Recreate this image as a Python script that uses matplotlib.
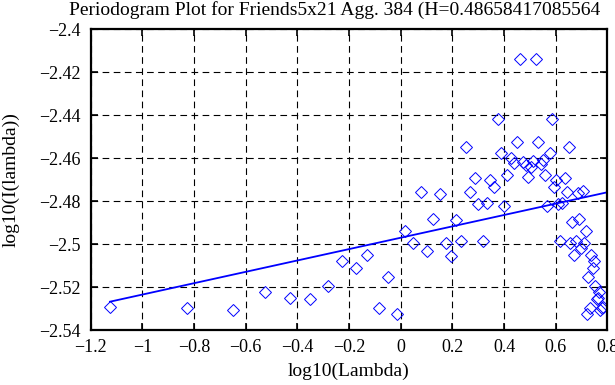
import matplotlib as mpl
import matplotlib.pyplot as plt

mpl.use('Agg')

# log10(frequency) and log10(periodogram)
logFreq = [-1.125, -0.825, -0.648, -0.525, -0.429, -0.351, -0.283, -0.226, -0.174, -0.129,
           -0.085, -0.050, -0.014, 0.017, 0.049, 0.077, 0.101, 0.126, 0.152, 0.174,
           0.194, 0.213, 0.232, 0.252, 0.268, 0.288, 0.300, 0.317, 0.333, 0.346,
           0.361, 0.375, 0.388, 0.401, 0.413, 0.426, 0.439, 0.449, 0.462, 0.472,
           0.484, 0.494, 0.504, 0.513, 0.523, 0.533, 0.542, 0.550, 0.559, 0.568,
           0.578, 0.586, 0.594, 0.601, 0.610, 0.618, 0.626, 0.635, 0.643, 0.650,
           0.657, 0.664, 0.671, 0.679, 0.685, 0.691, 0.698, 0.705, 0.711, 0.716,
           0.721, 0.726, 0.733, 0.738, 0.743, 0.748, 0.753, 0.758, 0.763, 0.768,
           0.773, 0.778, 0.783]
logPer = [-2.5290, -2.5298, -2.5306, -2.5220, -2.5250, -2.5256, -2.5194, -2.5078, -2.5109, -2.5050,
          -2.5295, -2.5151, -2.5326, -2.4938, -2.4993, -2.4755, -2.5031, -2.4881, -2.4766, -2.4993,
          -2.5053, -2.4887, -2.4984, -2.4549, -2.4755, -2.4690, -2.4813, -2.4983, -2.4809, -2.4700,
          -2.4732, -2.4419, -2.4577, -2.4821, -2.4678, -2.4597, -2.4623, -2.4523, -2.4140, -2.4616,
          -2.4631, -2.4686, -2.4639, -2.4613, -2.4140, -2.4523, -2.4628, -2.4608, -2.4678, -2.4821,
          -2.4577, -2.4419, -2.4732, -2.4700, -2.4813, -2.4983, -2.4810, -2.4690, -2.4755, -2.4549,
          -2.4993, -2.4896, -2.5050, -2.4984, -2.4763, -2.4883, -2.5019, -2.4752, -2.4993, -2.4938,
          -2.5326, -2.5151, -2.5295, -2.5050, -2.5109, -2.5078, -2.5194, -2.5256, -2.5250, -2.5220,
          -2.5306, -2.5298, -2.5290]

# least squares line end points
fitX = [-1.125, 0.8]
fitY = [-2.5267, -2.4758]

xTicks = [-1.2, -1, -0.8, -0.6, -0.4, -0.2, 0, 0.2, 0.4, 0.6, 0.8]
yTicks = [-2.54, -2.52, -2.5, -2.48, -2.46, -2.44, -2.42, -2.4]

plt.rcParams['font.family'] = ['Liberation Serif', 'DejaVu Serif']

fig = plt.figure(figsize=(6.15, 3.85), dpi=100)
ax = fig.add_axes([0.1473, 0.1421, 0.8403, 0.7818])

ax.plot(logFreq, logPer, linestyle='none', marker='D', markersize=6.5,
        markerfacecolor='none', markeredgecolor='blue', markeredgewidth=0.7)
ax.plot(fitX, fitY, color='blue', linewidth=1.3)

ax.set_xlim(-1.2, 0.8)
ax.set_ylim(-2.54, -2.4)
ax.set_xticks(xTicks)
ax.set_yticks(yTicks)
ax.set_xticklabels(['\u22121.2', '\u22121', '\u22120.8', '\u22120.6', '\u22120.4', '\u22120.2',
                    '0', '0.2', '0.4', '0.6', '0.8'])
ax.set_yticklabels(['\u22122.54', '\u22122.52', '\u22122.5', '\u22122.48', '\u22122.46',
                    '\u22122.44', '\u22122.42', '\u22122.4'])
ax.tick_params(direction='in', top=True, right=True, labelsize=13, length=5, width=1.2)
ax.tick_params(axis='x', pad=6)
ax.tick_params(axis='y', pad=7)
ax.grid(True, color='black', linestyle=(0, (6, 4)), linewidth=0.8)
for s in ax.spines.values():
    s.set_linewidth(1.6)

ax.set_xlabel('log10(Lambda)', fontsize=14, labelpad=5)
ax.set_ylabel('log10(I(lambda))', fontsize=14, labelpad=14)
fig.text(0.112, 0.997, 'Periodogram Plot for Friends5x21 Agg. 384 (H=0.48658417085564',
         fontsize=14, ha='left', va='top')

plt.savefig('out.png', dpi=100)
